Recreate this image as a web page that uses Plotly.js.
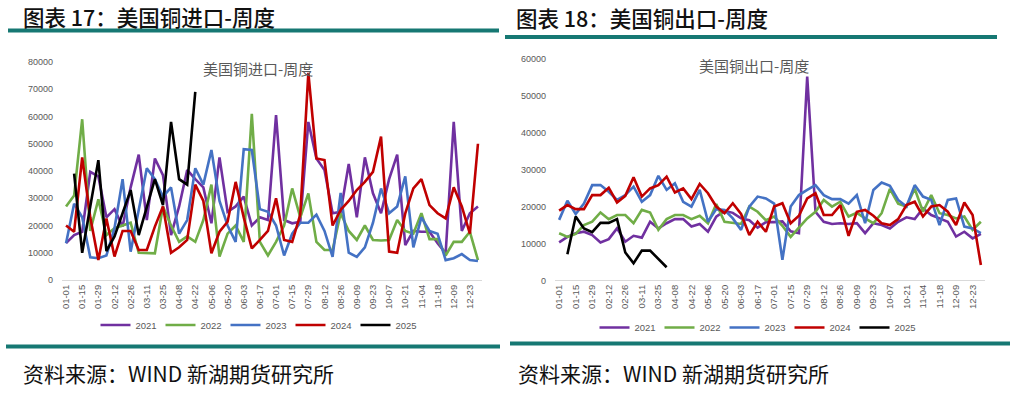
<!DOCTYPE html>
<html>
<head>
<meta charset="utf-8">
<script src="https://cdn.plot.ly/plotly-3.0.1.min.js"></script>
<style>
html,body{margin:0;padding:0;background:#fff;}
#chart{width:1018px;height:393px;}
</style>
</head>
<body>
<div id="chart"></div>
<script>
// ---- categories (weeks) ----
const weeks = ["01-01","01-08","01-15","01-22","01-29","02-05","02-12","02-19","02-26","03-04",
  "03-11","03-18","03-25","04-01","04-08","04-15","04-22","04-29","05-06","05-13",
  "05-20","05-27","06-03","06-10","06-17","06-24","07-01","07-08","07-15","07-22",
  "07-29","08-05","08-12","08-19","08-26","09-02","09-09","09-16","09-23","09-30",
  "10-07","10-14","10-21","10-28","11-04","11-11","11-18","12-02","12-09","12-16",
  "12-23","12-30"];
const tickWeeks = weeks.filter((w, i) => i % 2 === 0);

const seriesNames = ["2021", "2022", "2023", "2024", "2025"];

// ---- US copper imports, weekly ----
const imp2021 = [13500,16500,17700,39700,38000,23000,26000,19600,34000,46000,22000,44600,38500,16500,27000,40400,37000,34000,20800,45000,25000,27000,30600,20000,23000,22000,60500,22000,20800,21400,58000,44600,40400,24500,25000,42600,23000,45000,31800,24500,37000,46000,12800,18000,17700,17700,13500,9800,58000,18000,24500,27000];
const imp2022 = [27000,31000,59000,18000,29600,16500,19000,20000,21000,10000,9800,9800,27000,20000,14000,16000,14000,22000,35000,8600,17000,20000,14000,61000,14000,9000,14000,20000,33600,23000,31800,14000,11000,11000,24500,18000,14700,20000,14700,14500,14700,22000,18000,17000,24500,15000,15000,9000,14000,14000,17700,7300];
const imp2023 = [13500,28000,23000,8300,8000,9000,19000,37000,10400,26000,41000,37000,30500,34000,17000,22000,41000,35000,47700,29000,20000,14000,48000,47700,26000,25000,20000,9000,17000,21000,21000,24000,18000,8500,32000,10000,8500,12000,21000,33600,24500,27000,38000,12000,23000,18000,17000,7300,8000,9500,7300,7000];
const imp2024 = [20000,17700,45000,23000,7300,22600,8600,18000,18000,11000,11000,19600,27000,10000,12000,14700,35000,29000,9800,17700,21400,36000,23000,11600,14700,18000,30000,14700,14000,24000,76000,44600,44000,20000,25700,29000,33000,36000,39700,52600,10400,10000,24500,33600,37000,27500,24500,22600,34000,27000,17000,50000];
const imp2025 = [null,39000,10000,27000,44000,10600,16000,24500,33000,16500,27000,37000,27500,58000,37000,35000,69000];

// ---- US copper exports, weekly ----
const exp2021 = [10500,12000,13000,13400,12500,10500,11400,14300,10700,12300,11800,16100,14300,15700,16800,16800,14800,15500,13400,17500,19000,18500,17000,16500,14500,16000,16000,16200,13500,13000,55300,18800,16100,15500,15700,15500,15700,13000,15700,15200,14300,16100,17300,16800,19700,17900,17000,16100,12100,13400,11600,12800];
const exp2022 = [13000,12000,12800,15200,16100,18600,16800,17900,17900,15700,19300,18600,13900,16800,17900,17900,16800,17700,15700,20900,16100,15700,15500,20200,18800,16500,17500,15000,12000,14500,17000,18800,22000,20200,21500,17500,18500,17000,15700,18400,25000,21000,20200,25000,18800,23300,18400,17900,17000,17500,13900,16100];
const exp2023 = [16600,21800,18200,21000,26000,26000,24200,22000,23300,25600,21500,23300,28500,24700,26500,21500,20200,24700,16100,19500,19300,17000,13900,20200,22900,22400,21000,5800,20200,23300,24700,26000,23300,22200,22200,21000,23300,15700,24700,26700,25800,22000,20200,26000,22900,22000,15200,22000,22400,14800,14300,13000];
const exp2024 = [19100,20600,19500,19500,23300,23300,25300,21300,23100,28100,22900,25100,26000,28300,24000,25100,22200,26300,23800,20200,18400,21100,18200,12500,16100,13400,20200,21100,15700,17700,22400,23800,17900,17900,20600,12300,18800,19300,17700,15700,15200,16800,20600,21500,17500,20200,20600,18800,15200,21300,17900,4400];
const exp2025 = [null,7300,17500,14300,13300,15800,15800,16800,7800,4900,8300,8300,6000,3800];

const impTicks = [0,10000,20000,30000,40000,50000,60000,70000,80000];
const expTicks = [0,10000,20000,30000,40000,50000,60000];

// ---- styling ----
const colors = ["#7030A0", "#70AD47", "#4472C4", "#C00000", "#000000"];
const teal = "#167873";
const W = 1018, H = 393;
const px = v => v / W;
const py = v => 1 - v / H;

const impData = [imp2021, imp2022, imp2023, imp2024, imp2025];
const expData = [exp2021, exp2022, exp2023, exp2024, exp2025];

const traces = [];
impData.forEach((arr, i) => {
  traces.push({
    type: "scatter", mode: "lines", name: seriesNames[i],
    x: weeks.slice(0, arr.length), y: arr,
    xaxis: "x", yaxis: "y", legend: "legend",
    line: {color: colors[i], width: 2.6}, connectgaps: false
  });
});
expData.forEach((arr, i) => {
  traces.push({
    type: "scatter", mode: "lines", name: seriesNames[i],
    x: weeks.slice(0, arr.length), y: arr,
    xaxis: "x2", yaxis: "y2", legend: "legend2",
    line: {color: colors[i], width: 2.6}, connectgaps: false
  });
});

const tickFont = {family: "Liberation Sans, Arial, sans-serif", size: 9, color: "#595959"};
const xTickFont = {family: "Liberation Sans, Arial, sans-serif", size: 9.5, color: "#595959"};

function xAxis(domain) {
  return {
    domain: domain, type: "category", categoryorder: "array", categoryarray: weeks,
    range: [-0.5, 51.5], tickmode: "array", tickvals: tickWeeks, ticktext: tickWeeks,
    tickangle: -90, tickfont: xTickFont, showgrid: false, zeroline: false,
    showline: true, linecolor: "#D9D9D9", linewidth: 1, ticks: "", fixedrange: true
  };
}
function yAxis(domain, maxV, ticks, anchor) {
  return {
    domain: domain, range: [0, maxV], tickmode: "array", tickvals: ticks,
    tickformat: "d", tickfont: tickFont, showgrid: false, zeroline: false,
    showline: false, ticks: "", ticklabelstandoff: 8, anchor: anchor, fixedrange: true
  };
}

const headerFont = {family: "Noto Sans CJK SC, sans-serif", size: 21.5, color: "#111111", weight: 500};
const footFont = {family: "Noto Sans CJK SC, sans-serif", size: 21, color: "#111111"};
const innerFont = {family: "Noto Sans CJK SC, sans-serif", size: 15, color: "#595959"};
const legendFont = {family: "Liberation Sans, Arial, sans-serif", size: 9.5, color: "#595959"};

const layout = {
  width: W, height: H,
  margin: {l: 0, r: 0, t: 0, b: 0},
  paper_bgcolor: "#ffffff", plot_bgcolor: "#ffffff",
  showlegend: true,
  xaxis: xAxis([px(62), px(482)]),
  yaxis: yAxis([py(280), py(62)], 80000, impTicks, "x"),
  xaxis2: xAxis([px(555), px(985)]),
  yaxis2: yAxis([py(281.3), py(59.3)], 60000, expTicks, "x2"),
  legend: {
    orientation: "h", x: px(258), xanchor: "center", y: py(325), yanchor: "middle",
    font: legendFont, itemwidth: 30, entrywidth: 20, bgcolor: "rgba(0,0,0,0)", traceorder: "normal"
  },
  legend2: {
    orientation: "h", x: px(757), xanchor: "center", y: py(327.5), yanchor: "middle",
    font: legendFont, itemwidth: 30, entrywidth: 20, bgcolor: "rgba(0,0,0,0)", traceorder: "normal"
  },
  shapes: [
    {type: "line", xref: "paper", yref: "paper", x0: px(8), x1: px(499), y0: py(30.5), y1: py(30.5), line: {color: teal, width: 4}},
    {type: "line", xref: "paper", yref: "paper", x0: px(505), x1: px(997), y0: py(37), y1: py(37), line: {color: teal, width: 4}},
    {type: "line", xref: "paper", yref: "paper", x0: px(6), x1: px(500), y0: py(346.5), y1: py(346.5), line: {color: teal, width: 4}},
    {type: "line", xref: "paper", yref: "paper", x0: px(510), x1: px(1010), y0: py(343.5), y1: py(343.5), line: {color: teal, width: 4}}
  ],
  annotations: [
    {xref: "paper", yref: "paper", x: px(21), y: py(16.5), xanchor: "left", yanchor: "middle", showarrow: false, text: "图表 17：美国铜进口-周度", font: headerFont},
    {xref: "paper", yref: "paper", x: px(514), y: py(17.5), xanchor: "left", yanchor: "middle", showarrow: false, text: "图表 18：美国铜出口-周度", font: headerFont},
    {xref: "paper", yref: "paper", x: px(258), y: py(69), xanchor: "center", yanchor: "middle", showarrow: false, text: "美国铜进口-周度", font: innerFont},
    {xref: "paper", yref: "paper", x: px(754), y: py(65.5), xanchor: "center", yanchor: "middle", showarrow: false, text: "美国铜出口-周度", font: innerFont},
    {xref: "paper", yref: "paper", x: px(21), y: py(373), xanchor: "left", yanchor: "middle", showarrow: false, text: "资料来源：WIND 新湖期货研究所", font: footFont},
    {xref: "paper", yref: "paper", x: px(516), y: py(373), xanchor: "left", yanchor: "middle", showarrow: false, text: "资料来源：WIND 新湖期货研究所", font: footFont}
  ]
};

Plotly.newPlot("chart", traces, layout, {staticPlot: true, displayModeBar: false});
</script>
</body>
</html>
